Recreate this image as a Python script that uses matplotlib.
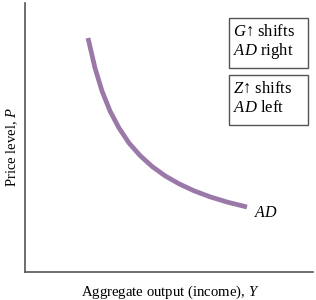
import matplotlib
matplotlib.use("Agg")
import matplotlib.pyplot as plt
from matplotlib.patches import Rectangle

# ── Dados ─────────────────────────────────────────────────────────────────────

# AD curve (output, price level)
ad_x = [63, 70, 77, 85, 94, 104, 115, 127, 140, 154, 169, 185, 203, 222]
ad_y = [234, 204, 181, 161, 144, 129, 116.5, 105.6, 96.2, 88.2, 81.2, 75.2, 69.7, 65]

box_lines = [
    ("$G$\u2191 shifts", "$AD$ right"),
    ("$Z$\u2191 shifts", "$AD$ left"),
]

# ── Estilo ────────────────────────────────────────────────────────────────────

PURPLE = "#9a78a8"
FRAME = "#555555"

plt.rcParams.update({
    "font.family": ["Liberation Serif", "DejaVu Serif"],
    "mathtext.fontset": "custom",
    "mathtext.it": "Liberation Serif:italic",
    "mathtext.rm": "Liberation Serif",
})

W, H = 316, 300
fig = plt.figure(figsize=(W / 100, H / 100), dpi=100)
# axes box: left 25px, right 313px, top 3px, bottom 272px
ax = fig.add_axes([25 / W, 1 - 272 / H, 288 / W, 269 / H])
ax.set_xlim(0, 288)
ax.set_ylim(0, 269)
ax.set_xticks([])
ax.set_yticks([])
ax.spines[["top", "right"]].set_visible(False)
for s in ("left", "bottom"):
    ax.spines[s].set_color(FRAME)
    ax.spines[s].set_linewidth(1.2)

ax.plot(ad_x, ad_y, color=PURPLE, linewidth=3.4, solid_capstyle="butt")
ax.text(229, 59, "$AD$", fontsize=11.5, va="center", ha="left")

fig.text(170 / W, 1 - 292 / H, "Aggregate output (income), $Y$",
         fontsize=10.6, ha="center", va="center")
fig.text(12 / W, 1 - 147 / H, "Price level, $P$", fontsize=10.5,
         rotation=90, ha="center", va="center")

# caixas de texto
for i, (l1, l2) in enumerate(box_lines):
    top = 254 - i * 57
    ax.add_patch(Rectangle((204, top - 50), 79, 50, fill=False,
                           edgecolor=FRAME, linewidth=1.0))
    ax.text(208, top - 14, l1, fontsize=12, va="center", ha="left")
    ax.text(208, top - 33, l2, fontsize=12, va="center", ha="left")

fig.savefig("out.png", dpi=100, facecolor="white")
